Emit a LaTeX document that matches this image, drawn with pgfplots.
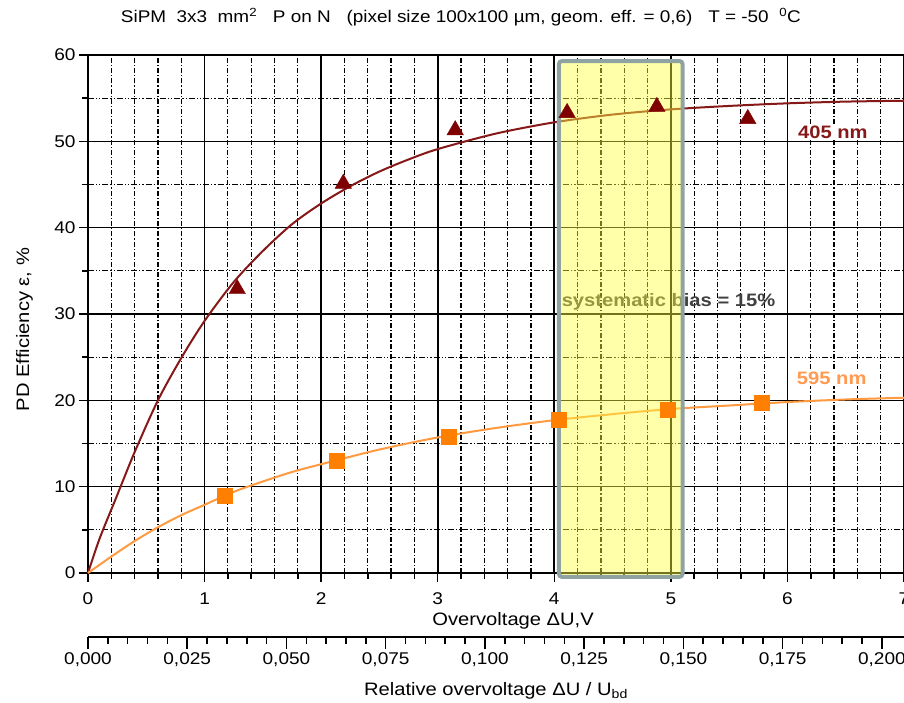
\documentclass[border=0pt]{standalone}
\usepackage{fontspec}
\setmainfont{Liberation Sans}[FakeStretch=1.12]
\usepackage{pgfplots}
\pgfplotsset{compat=1.18}
\definecolor{redcurve}{HTML}{861818}
\definecolor{redmark}{HTML}{7F0000}
\definecolor{orgcurve}{HTML}{FF9A40}
\definecolor{orgmark}{HTML}{FF7F00}
\definecolor{orglabel}{HTML}{FF9A50}
\definecolor{boxborder}{HTML}{8FA3A3}
\definecolor{boxfill}{HTML}{FFFF40}
\definecolor{biastext}{HTML}{404040}
\begin{document}
\begin{tikzpicture}
\begin{axis}[
  at={(0,0)}, anchor=south west, scale only axis,
  width=816pt, height=518pt,
  xmin=0, xmax=7, ymin=0, ymax=60,
  xtick={0,1,2,3,4,5,6,7}, ytick={0,10,20,30,40,50,60},
  minor x tick num=4, minor y tick num=1,
  grid=both,
  major grid style={black, line width=1.6pt},
  minor x grid style={black, line width=1.2pt, dash pattern=on 5pt off 2pt on 1.2pt off 2pt},
  minor y grid style={black, line width=1.2pt, dash pattern=on 6pt off 2pt on 1.2pt off 2pt on 1.2pt off 2pt},
  axis line style={black, line width=2pt},
  tick pos=left, tick align=outside,
  major tick length=9pt, minor tick length=6pt,
  every tick/.style={black, line width=1.5pt},
  /pgf/number format/assume math mode=true,
  tick label style={font=\fontsize{17}{20}\selectfont},
  xticklabel style={yshift=-7pt},
  xlabel={Overvoltage ΔU,V},
  ylabel={PD Efficiency ε, \%},
  xlabel style={font=\fontsize{18}{21}\selectfont, at={(axis description cs:0.521,0)}, anchor=center, yshift=-48pt},
  ylabel style={font=\fontsize{18}{21}\selectfont, at={(axis description cs:-0.078,0.47)}, anchor=center},
  clip=false,
]
\addplot[redcurve, line width=2pt, smooth] coordinates {
(0,0) (0.1,4.0) (0.25,9.0) (0.4,14.0) (0.6,20.0) (0.8,24.9) (1.0,29.2)
(1.25,33.7) (1.5,37.3) (1.75,40.4) (2.0,42.8) (2.25,44.8) (2.5,46.5)
(2.75,47.9) (3.0,49.1) (3.5,50.9) (4.0,52.2) (4.5,53.1) (5.0,53.7)
(5.5,54.1) (6.0,54.4) (6.5,54.6) (7.0,54.7)};
\addplot[orgcurve, line width=2pt, smooth] coordinates {
(0,0) (0.2,1.9) (0.4,3.7) (0.6,5.3) (0.8,6.7) (1.0,7.9) (1.25,9.4)
(1.5,10.6) (1.75,11.7) (2.0,12.6) (2.5,14.3) (3.0,15.7) (3.5,16.8)
(4.0,17.7) (4.5,18.4) (5.0,19.0) (5.5,19.4) (6.0,19.8) (6.5,20.1) (7.0,20.3)};
\addplot[only marks, mark=triangle*, mark size=9.5pt, redmark, mark options={fill=redmark, draw=redmark}] coordinates {
(1.28,32.9) (2.19,45.1) (3.15,51.3) (4.11,53.3) (4.88,54.0) (5.66,52.6)};
\addplot[only marks, mark=square*, mark size=7.5pt, orgmark, mark options={fill=orgmark, draw=orgmark}] coordinates {
(1.17,8.9) (2.13,13.0) (3.09,15.8) (4.04,17.8) (4.97,18.9) (5.78,19.7)};
\node[font=\bfseries\fontsize{18}{21}\selectfont, text=redcurve, fill=white, inner sep=1pt] at (axis cs:6.39,51.0) {405 nm};
\node[font=\bfseries\fontsize{18}{21}\selectfont, text=orglabel, fill=white, inner sep=1pt] at (axis cs:6.38,22.5) {595 nm};
\node[font=\bfseries\fontsize{18}{21}\selectfont, text=biastext] at (axis cs:4.98,31.4) {systematic bias = 15\%};
\draw[draw=boxborder, line width=4pt, rounded corners=3pt, fill=boxfill, fill opacity=0.45] (axis cs:4.04,-0.45) rectangle (axis cs:5.10,59.3);
\node[font=\fontsize{16.9}{20}\selectfont, anchor=center] at ([yshift=38pt]axis description cs:0.457,1) {SiPM\ \ 3x3\ \ mm\textsuperscript{2}\ \ \ P on N\ \ \ (pixel size 100x100 µm, geom. eff. = 0,6)\ \ \ T = -50\ \ \textsuperscript{0}C};
\end{axis}
\begin{axis}[
  at={(0,-64pt)}, anchor=south west, scale only axis,
  width=816pt, height=10pt,
  xmin=0, xmax=0.20558, ymin=0, ymax=1,
  axis x line=bottom, axis y line=none,
  axis line style={black, line width=2pt, -},
  xtick={0,0.025,0.05,0.075,0.1,0.125,0.15,0.175,0.2},
  minor x tick num=4,
  tick align=outside,
  major tick length=12pt, minor tick length=7pt,
  every tick/.style={black, line width=1.5pt},
  scaled x ticks=false,
  xticklabel style={font=\fontsize{17}{20}\selectfont, /pgf/number format/.cd, fixed, fixed zerofill, precision=3, use comma, assume math mode=true},
  xlabel={Relative overvoltage ΔU / U\textsubscript{bd}},
  xlabel style={font=\fontsize{18}{21}\selectfont, at={(axis description cs:0.5,0)}, anchor=center, yshift=-54pt},
]
\addplot[draw=none] coordinates {(0,0) (0.2,0)};
\end{axis}
\pgfresetboundingbox
\path[use as bounding box] (-88pt,-130pt) rectangle (816pt,573pt);
\end{tikzpicture}
\end{document}
